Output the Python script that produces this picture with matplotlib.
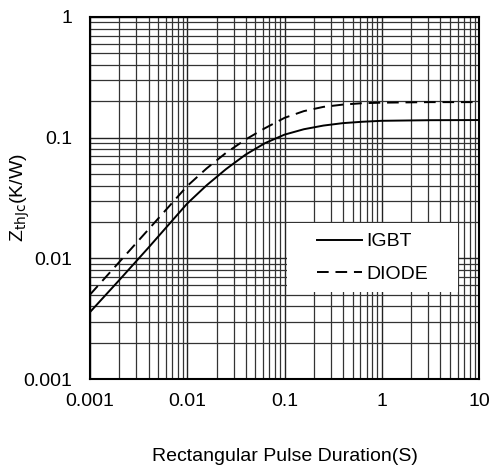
import numpy as np
import matplotlib.pyplot as plt
from matplotlib.patches import Rectangle

plt.rcParams['font.family'] = ['Liberation Sans', 'DejaVu Sans']

# Pulse duration (s) and thermal impedance (K/W)
t_pulse = [0.001, 0.002, 0.004, 0.01, 0.0158, 0.0251, 0.0398, 0.0631, 0.1,
           0.158, 0.251, 0.398, 0.631, 1.0, 3.16, 10.0]
z_igbt = [0.00359, 0.00661, 0.0123, 0.0285, 0.0403, 0.055, 0.0724, 0.0902, 0.106,
          0.1175, 0.126, 0.132, 0.1355, 0.138, 0.1396, 0.14]
z_diode = [0.00501, 0.00933, 0.0174, 0.0398, 0.0556, 0.075, 0.0966, 0.120, 0.146,
           0.166, 0.18, 0.188, 0.193, 0.195, 0.197, 0.197]

xticks = [0.001, 0.01, 0.1, 1, 10]
xticklabels = ['0.001', '0.01', '0.1', '1', '10']
yticks = [0.001, 0.01, 0.1, 1]
yticklabels = ['0.001', '0.01', '0.1', '1']

fig = plt.figure(figsize=(4.97, 4.71), dpi=100)
ax = fig.add_axes([0.181, 0.195, 0.783, 0.769])

ax.set_xscale('log')
ax.set_yscale('log')
ax.set_xlim(0.001, 10)
ax.set_ylim(0.001, 1)

ax.grid(True, which='major', color='#222222', linewidth=1.0)
ax.grid(True, which='minor', color='#333333', linewidth=0.9)
ax.set_axisbelow(True)

ax.plot(t_pulse, z_igbt, color='black', linewidth=1.4, label='IGBT', zorder=3)
ax.plot(t_pulse, z_diode, color='black', linewidth=1.4, dashes=(6, 3.5), label='DIODE', zorder=3)

# white box behind the legend that hides the grid
ax.add_patch(Rectangle((0.506, 0.24), 0.44, 0.191, transform=ax.transAxes,
                       facecolor='white', edgecolor='none', zorder=1.5))
ax.legend(loc='center', bbox_to_anchor=(0.506, 0.24, 0.44, 0.191), frameon=False,
          fontsize=14, handlelength=2.3, handletextpad=0.25, labelspacing=0.75)

ax.set_xticks(xticks)
ax.set_xticklabels(xticklabels)
ax.set_yticks(yticks)
ax.set_yticklabels(yticklabels)
ax.tick_params(which='both', length=0, labelsize=14)
ax.tick_params(axis='x', pad=10)
ax.tick_params(axis='y', pad=13)

for s in ax.spines.values():
    s.set_linewidth(1.5)
    s.set_color('black')

ax.set_xlabel('Rectangular Pulse Duration(S)', fontsize=14)
ax.xaxis.set_label_coords(0.5, -0.19)
ax.set_ylabel(r'Z$_{\mathrm{thJc}}$(K/W)', fontsize=14)
ax.yaxis.set_label_coords(-0.15, 0.5)

fig.savefig('out.png', dpi=100)
